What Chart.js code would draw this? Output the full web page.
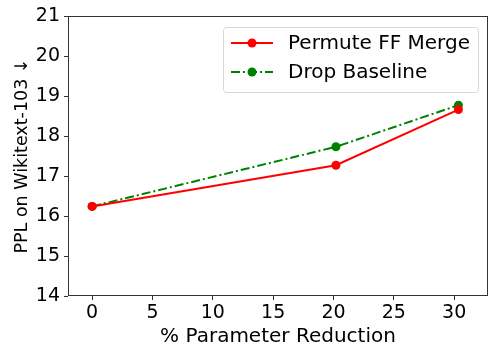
<!DOCTYPE html>
<html>
<head>
<meta charset="utf-8">
<script src="https://cdn.jsdelivr.net/npm/chart.js@4.4.1/dist/chart.umd.min.js"></script>
<style>
  html, body { margin: 0; padding: 0; background: #fff; }
  canvas { display: block; }
</style>
</head>
<body>
<canvas id="chart" width="498" height="358"></canvas>
<script>
const reduction = [0, 20.2, 30.35];
const permuteMerge = [16.24, 17.27, 18.66];
const dropBaseline = [16.24, 17.73, 18.77];
const xTicks = [0, 5, 10, 15, 20, 25, 30];
const yTicks = [14, 15, 16, 17, 18, 19, 20, 21];

const FONT = "'DejaVu Sans', sans-serif";
const seriesNames = ['Permute FF Merge', 'Drop Baseline'];

// frame around the plot plus an in-plot legend, like matplotlib's
const framePlugin = {
    id: 'frame',
    afterDraw(chart) {
        const { ctx, chartArea: a } = chart;
        ctx.save();
        ctx.strokeStyle = '#333';
        ctx.lineWidth = 1;
        ctx.strokeRect(a.left + 0.5, a.top + 0.5, a.right - a.left - 1, a.bottom - a.top - 1);

        // legend box
        const bx = 223.5, by = 27.5, bw = 255, bh = 65;
        ctx.fillStyle = 'rgba(255,255,255,0.8)';
        ctx.strokeStyle = '#d8d8d8';
        ctx.beginPath();
        ctx.roundRect(bx, by, bw, bh, 3);
        ctx.fill();
        ctx.stroke();

        const rows = [
            { y: 43, color: '#ff0000', dash: [] },
            { y: 72, color: '#008000', dash: [9, 3, 2, 3] }
        ];
        rows.forEach((r, i) => {
            ctx.strokeStyle = r.color;
            ctx.lineWidth = 2;
            ctx.setLineDash(r.dash);
            ctx.beginPath();
            ctx.moveTo(231, r.y);
            ctx.lineTo(273, r.y);
            ctx.stroke();
            ctx.setLineDash([]);
            ctx.fillStyle = r.color;
            ctx.beginPath();
            ctx.arc(252, r.y, 4.5, 0, Math.PI * 2);
            ctx.fill();
            ctx.fillStyle = '#000';
            ctx.font = '20px ' + FONT;
            ctx.textBaseline = 'middle';
            ctx.textAlign = 'left';
            ctx.fillText(seriesNames[i], 288, r.y + 1);
        });
        ctx.restore();
    }
};

new Chart(document.getElementById('chart'), {
    type: 'line',
    data: {
        datasets: [
            {
                label: seriesNames[0],
                data: reduction.map((x, i) => ({ x: x, y: permuteMerge[i] })),
                borderColor: '#ff0000',
                backgroundColor: '#ff0000',
                borderWidth: 2,
                pointRadius: 4.5,
                pointBorderWidth: 0,
                tension: 0
            },
            {
                label: seriesNames[1],
                data: reduction.map((x, i) => ({ x: x, y: dropBaseline[i] })),
                borderColor: '#008000',
                backgroundColor: '#008000',
                borderWidth: 2,
                borderDash: [9, 3, 2, 3],
                pointRadius: 4.5,
                pointBorderWidth: 0,
                tension: 0
            }
        ]
    },
    options: {
        responsive: false,
        animation: false,
        layout: { padding: { top: 16, right: 10, left: 0, bottom: 0 } },
        plugins: { legend: { display: false }, tooltip: { enabled: false } },
        scales: {
            x: {
                type: 'linear',
                min: -2,
                max: 32.8,
                afterBuildTicks: s => { s.ticks = xTicks.map(v => ({ value: v })); },
                afterFit: s => { s.height = 62; },
                grid: { drawOnChartArea: false, drawTicks: true, tickLength: 4, color: '#333' },
                border: { display: false },
                ticks: { color: '#000', font: { family: FONT, size: 19 }, padding: 2, maxRotation: 0 },
                title: { display: true, text: '% Parameter Reduction', color: '#000',
                         font: { family: FONT, size: 20 }, padding: { top: 0, bottom: 9 } }
            },
            y: {
                min: 14,
                max: 21,
                afterBuildTicks: s => { s.ticks = yTicks.map(v => ({ value: v })); },
                afterFit: s => { s.width = 68; },
                grid: { drawOnChartArea: false, drawTicks: true, tickLength: 4, color: '#333' },
                border: { display: false },
                ticks: { color: '#000', font: { family: FONT, size: 19 }, padding: 4 },
                title: { display: true, text: 'PPL on Wikitext-103 ↓', color: '#000',
                         font: { family: FONT, size: 17.5 }, padding: { top: 12, bottom: 0 } }
            }
        }
    },
    plugins: [framePlugin]
});
</script>
</body>
</html>
